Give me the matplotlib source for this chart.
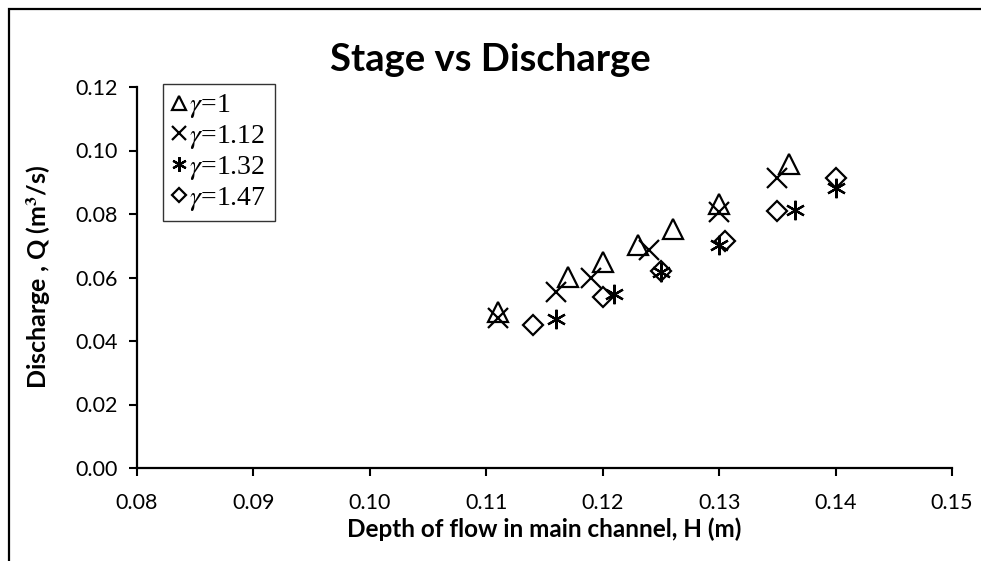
import numpy as np
import matplotlib
matplotlib.use("Agg")
import matplotlib.pyplot as plt
from matplotlib.patches import Rectangle

# depth of flow H (m) and discharge Q (m3/s) for each width ratio gamma
h_g100 = [0.111, 0.117, 0.120, 0.123, 0.126, 0.130, 0.136]
q_g100 = [0.0490, 0.0602, 0.0649, 0.0702, 0.0753, 0.0831, 0.0957]

h_g112 = [0.111, 0.116, 0.119, 0.124, 0.130, 0.135]
q_g112 = [0.0472, 0.0554, 0.0598, 0.0687, 0.0806, 0.0913]

h_g132 = [0.116, 0.121, 0.125, 0.130, 0.1365, 0.140]
q_g132 = [0.0469, 0.0548, 0.0617, 0.0702, 0.0813, 0.0882]

h_g147 = [0.114, 0.120, 0.125, 0.1305, 0.135, 0.140]
q_g147 = [0.0450, 0.0539, 0.0620, 0.0715, 0.0809, 0.0913]

labels = ["$\\gamma$=1", "$\\gamma$=1.12", "$\\gamma$=1.32", "$\\gamma$=1.47"]

plt.rcParams['font.family'] = ['Lato', 'DejaVu Sans']
plt.rcParams['mathtext.fontset'] = 'stix'

fig = plt.figure(figsize=(9.81, 5.61), dpi=100)
ax = fig.add_axes([137/981, 1 - 468/561, (952-137)/981, (468-87)/561])

# outer chart frame, only left and top edges show
fig.patches.append(Rectangle((9/981, -0.1), 1.2, 1 - 9/561 + 0.1, transform=fig.transFigure,
                             fill=False, edgecolor='black', linewidth=1.6))

kw = dict(linestyle='none', color='black', markerfacecolor='none', markeredgewidth=1.6)
ax.plot(h_g100, q_g100, marker='^', markersize=14, label=labels[0], **kw)
ax.plot(h_g112, q_g112, marker='x', markersize=14, label=labels[1], **kw)
ax.plot(h_g132, q_g132, marker=(6, 2, 0), markersize=14, label=labels[2], **kw)
ax.plot(h_g147, q_g147, marker='D', markersize=10, label=labels[3], **kw)

ax.set_xlim(0.08, 0.15)
ax.set_ylim(0.0, 0.12)
ax.set_xticks(np.arange(0.08, 0.1501, 0.01))
ax.set_yticks(np.arange(0.0, 0.1201, 0.02))
ax.xaxis.set_major_formatter(matplotlib.ticker.FormatStrFormatter('%.2f'))
ax.yaxis.set_major_formatter(matplotlib.ticker.FormatStrFormatter('%.2f'))
ax.tick_params(labelsize=15.5, length=6, width=1.5, direction='out', pad=12)
ax.tick_params(axis='y', pad=8)

for s in ['top', 'right']:
    ax.spines[s].set_visible(False)
for s in ['left', 'bottom']:
    ax.spines[s].set_linewidth(1.6)

ax.set_xlabel("Depth of flow in main channel, H (m)", fontsize=17.5, fontweight='bold', labelpad=3)
ax.set_ylabel("Discharge , Q (m$^\\mathbf{3}$/s)", fontsize=18, fontweight='bold', labelpad=16)
fig.text(0.5, 1 - 60/561, "Stage vs Discharge", fontsize=27.5, fontweight='bold',
         ha='center', va='center')

leg = ax.legend(loc='upper left', bbox_to_anchor=((163-137)/815, 1 + 3/381),
                prop={'family': 'Liberation Serif', 'size': 20},
                markerscale=0.75, handlelength=0.55, handletextpad=0.1, borderpad=0.3,
                labelspacing=0.1, frameon=True, fancybox=False, borderaxespad=0)
leg.get_frame().set_edgecolor('black')
leg.get_frame().set_linewidth(1.0)

fig.savefig("out.png", dpi=100)
